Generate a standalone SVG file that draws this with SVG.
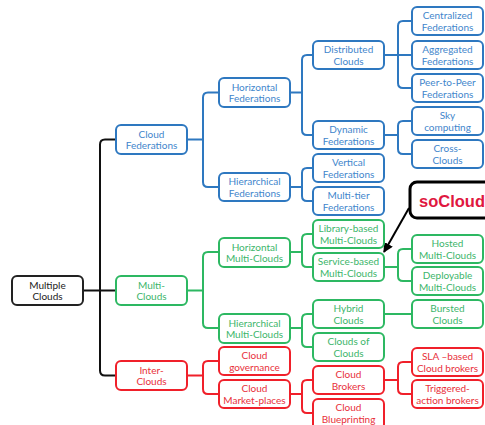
<svg xmlns="http://www.w3.org/2000/svg" width="485" height="425" viewBox="0 0 485 425">
<defs>
<style>
.n rect{fill:#fff;stroke-width:2}
.n text{font-family:Lato,"Liberation Sans",sans-serif;font-size:10px;text-anchor:middle}
.b rect{stroke:#2E78C0}.b text{fill:#3F86CC}
.g rect{stroke:#2DB862}.g text{fill:#3CB56A}
.r rect{stroke:#F0202A}.r text{fill:#E8303A}
.k rect{stroke:#222}.k text{fill:#222}
.c path{fill:none;stroke-width:2}
.cb path{stroke:#2E78C0}.cg path{stroke:#2DB862}.cr path{stroke:#F0202A}.ck path{stroke:#111}
</style>
<marker id="ah" viewBox="0 0 10 10" refX="9" refY="5" markerWidth="5" markerHeight="5" orient="auto-start-reverse"><path d="M0,0 L10,5 L0,10 z" fill="#000"/></marker>
</defs>
<rect width="485" height="425" fill="#fff"/>
<g id="connectors" class="c">
<g class="ck">
<path d="M83 290.5 H100 M100 290.5 V144.5 Q100 139.5 105 139.5 H116 M100 290.5 H116 M100 290.5 V370.5 Q100 375.5 105 375.5 H116"/>
</g>
<g class="cb">
<path d="M187 139.5 H203 V97.5 Q203 92.5 208 92.5 H219 M203 139.5 V182 Q203 187 208 187 H219"/>
<path d="M290 92.5 H302 V60 Q302 55 307 55 H313 M302 92.5 V130 Q302 135 307 135 H313"/>
<path d="M384 55 H398 V26 Q398 21 403 21 H412 M398 55 H412 M398 55 V83 Q398 88 403 88 H412"/>
<path d="M384 135 H398 V126 Q398 121 403 121 H412 M398 135 V149 Q398 154 403 154 H412"/>
<path d="M290 187 H302 V173 Q302 168 307 168 H313 M302 187 V196 Q302 201 307 201 H313"/>
</g>
<g class="cg">
<path d="M187 290.5 H203 V257 Q203 252 208 252 H219 M203 290.5 V323 Q203 328 208 328 H219"/>
<path d="M290 252 H302 V239 Q302 234 307 234 H313 M302 252 V262 Q302 267 307 267 H313"/>
<path d="M384 267 H398 V254 Q398 249 403 249 H412 M398 267 V276 Q398 281 403 281 H412"/>
<path d="M290 328 H302 V319 Q302 314 307 314 H313 M302 328 V342 Q302 347 307 347 H313"/>
<path d="M384 314 H412"/>
</g>
<g class="cr">
<path d="M187 375.5 H203 V366 Q203 361 208 361 H219 M203 375.5 V389 Q203 394 208 394 H219"/>
<path d="M290 394 H302 V385 Q302 380 307 380 H313 M302 394 V408 Q302 413 307 413 H313"/>
<path d="M384 380 H398 V367 Q398 362 403 362 H412 M398 380 V389 Q398 394 403 394 H412"/>
</g>
<path d="M409 208 L384 252" stroke="#000" stroke-width="1.5" fill="none" marker-end="url(#ah)"/>
</g>
<g id="multiple-clouds" class="n k"><rect x="12" y="276" width="71" height="29" rx="5"/><text x="47.5" y="288.5">Multiple</text><text x="47.5" y="300">Clouds</text></g>
<g id="cloud-federations" class="n b"><rect x="116" y="125" width="71" height="29" rx="5"/><text x="151.5" y="137.5">Cloud</text><text x="151.5" y="149">Federations</text></g>
<g id="horizontal-federations" class="n b"><rect x="219" y="78" width="71" height="29" rx="5"/><text x="254.5" y="90.5">Horizontal</text><text x="254.5" y="102">Federations</text></g>
<g id="hierarchical-federations" class="n b"><rect x="219" y="173" width="71" height="28" rx="5"/><text x="254.5" y="185">Hierarchical</text><text x="254.5" y="196.5">Federations</text></g>
<g id="distributed-clouds" class="n b"><rect x="313" y="41" width="71" height="28" rx="5"/><text x="348.5" y="53">Distributed</text><text x="348.5" y="64.5">Clouds</text></g>
<g id="dynamic-federations" class="n b"><rect x="313" y="121" width="71" height="28" rx="5"/><text x="348.5" y="133">Dynamic</text><text x="348.5" y="144.5">Federations</text></g>
<g id="vertical-federations" class="n b"><rect x="313" y="154" width="71" height="28" rx="5"/><text x="348.5" y="166">Vertical</text><text x="348.5" y="177.5">Federations</text></g>
<g id="multi-tier-federations" class="n b"><rect x="313" y="187" width="71" height="28" rx="5"/><text x="348.5" y="199">Multi-tier</text><text x="348.5" y="210.5">Federations</text></g>
<g id="centralized-federations" class="n b"><rect x="412" y="7" width="71" height="28" rx="5"/><text x="447.5" y="19">Centralized</text><text x="447.5" y="30.5">Federations</text></g>
<g id="aggregated-federations" class="n b"><rect x="412" y="41" width="71" height="28" rx="5"/><text x="447.5" y="53">Aggregated</text><text x="447.5" y="64.5">Federations</text></g>
<g id="peer-to-peer-federations" class="n b"><rect x="412" y="74" width="71" height="28" rx="5"/><text x="447.5" y="86">Peer-to-Peer</text><text x="447.5" y="97.5">Federations</text></g>
<g id="sky-computing" class="n b"><rect x="412" y="107" width="71" height="28" rx="5"/><text x="447.5" y="119">Sky</text><text x="447.5" y="130.5">computing</text></g>
<g id="cross-clouds" class="n b"><rect x="412" y="140" width="71" height="28" rx="5"/><text x="447.5" y="152">Cross-</text><text x="447.5" y="163.5">Clouds</text></g>
<g id="multi-clouds" class="n g"><rect x="116" y="276" width="71" height="29" rx="5"/><text x="151.5" y="288.5">Multi-</text><text x="151.5" y="300">Clouds</text></g>
<g id="horizontal-multi-clouds" class="n g"><rect x="219" y="238" width="71" height="29" rx="5"/><text x="254.5" y="250.5">Horizontal</text><text x="254.5" y="262">Multi-Clouds</text></g>
<g id="hierarchical-multi-clouds" class="n g"><rect x="219" y="314" width="71" height="29" rx="5"/><text x="254.5" y="326.5">Hierarchical</text><text x="254.5" y="338">Multi-Clouds</text></g>
<g id="library-based" class="n g"><rect x="313" y="220" width="71" height="28" rx="5"/><text x="348.5" y="232">Library-based</text><text x="348.5" y="243.5">Multi-Clouds</text></g>
<g id="service-based" class="n g"><rect x="313" y="253" width="71" height="28" rx="5"/><text x="348.5" y="265">Service-based</text><text x="348.5" y="276.5">Multi-Clouds</text></g>
<g id="hosted" class="n g"><rect x="412" y="235" width="71" height="28" rx="5"/><text x="447.5" y="247">Hosted</text><text x="447.5" y="258.5">Multi-Clouds</text></g>
<g id="deployable" class="n g"><rect x="412" y="267" width="71" height="28" rx="5"/><text x="447.5" y="279">Deployable</text><text x="447.5" y="290.5">Multi-Clouds</text></g>
<g id="hybrid-clouds" class="n g"><rect x="313" y="300" width="71" height="28" rx="5"/><text x="348.5" y="312">Hybrid</text><text x="348.5" y="323.5">Clouds</text></g>
<g id="bursted-clouds" class="n g"><rect x="412" y="300" width="71" height="28" rx="5"/><text x="447.5" y="312">Bursted</text><text x="447.5" y="323.5">Clouds</text></g>
<g id="clouds-of-clouds" class="n g"><rect x="313" y="333" width="71" height="28" rx="5"/><text x="348.5" y="345">Clouds of</text><text x="348.5" y="356.5">Clouds</text></g>
<g id="inter-clouds" class="n r"><rect x="116" y="361" width="71" height="29" rx="5"/><text x="151.5" y="373.5">Inter-</text><text x="151.5" y="385">Clouds</text></g>
<g id="cloud-governance" class="n r"><rect x="219" y="347" width="71" height="28" rx="5"/><text x="254.5" y="359">Cloud</text><text x="254.5" y="370.5">governance</text></g>
<g id="cloud-market-places" class="n r"><rect x="219" y="380" width="71" height="28" rx="5"/><text x="254.5" y="392">Cloud</text><text x="254.5" y="403.5">Market-places</text></g>
<g id="cloud-brokers" class="n r"><rect x="313" y="366" width="71" height="28" rx="5"/><text x="348.5" y="378">Cloud</text><text x="348.5" y="389.5">Brokers</text></g>
<g id="cloud-blueprinting" class="n r"><rect x="313" y="399" width="71" height="30" rx="5"/><text x="348.5" y="411">Cloud</text><text x="348.5" y="422.5">Blueprinting</text></g>
<g id="sla-based" class="n r"><rect x="412" y="348" width="71" height="28" rx="5"/><text x="447.5" y="360">SLA –based</text><text x="447.5" y="371.5">Cloud brokers</text></g>
<g id="triggered-action" class="n r"><rect x="412" y="380" width="71" height="28" rx="5"/><text x="447.5" y="392">Triggered-</text><text x="447.5" y="403.5">action brokers</text></g>
<g id="socloud"><rect x="410" y="182" width="90" height="36" rx="7" fill="#fff" stroke="#000" stroke-width="3"/><text x="419" y="207" font-family="Liberation Sans,Arial,sans-serif" font-weight="bold" font-size="16.5" fill="#E0173F">soCloud</text></g>
</svg>
